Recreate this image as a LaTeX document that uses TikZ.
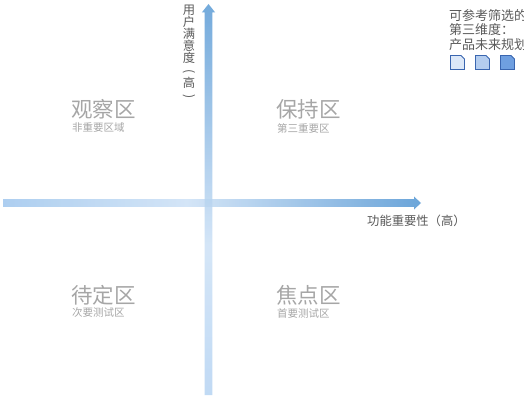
\documentclass[tikz,border=0pt]{standalone}
\usepackage{fontspec}
\newfontfamily\cjk{Noto Sans CJK SC}
\definecolor{hA}{HTML}{A4C9EE}
\definecolor{hB}{HTML}{CFE2F6}
\definecolor{hC}{HTML}{5B9BD5}
\definecolor{vA}{HTML}{B5D3F2}
\definecolor{vB}{HTML}{CDE1F6}
\definecolor{vC}{HTML}{5B9BD5}
\definecolor{txtdark}{HTML}{595959}
\definecolor{txtgray}{HTML}{A6A6A6}
\definecolor{sqborder}{HTML}{3A66B0}
\definecolor{sqA}{HTML}{DCE8F8}
\definecolor{sqB}{HTML}{B4CDEF}
\definecolor{sqC}{HTML}{6F9FE0}
\pgfdeclarehorizontalshading{haxis}{100bp}{color(0bp)=(hA); color(25bp)=(hA); color(47bp)=(hB); color(75bp)=(hC); color(100bp)=(hC)}
\pgfdeclareverticalshading{vaxis}{100bp}{color(0bp)=(vA); color(25bp)=(vA); color(44bp)=(vB); color(75bp)=(vC); color(100bp)=(vC)}
\begin{document}
\begin{tikzpicture}[x=1pt,y=-1pt,
  title/.style={font=\cjk\fontsize{21.5}{24}\selectfont, text=txtgray, anchor=west, inner sep=0pt},
  sub/.style={font=\cjk\fontsize{10.5}{12}\selectfont, text=txtgray, anchor=west, inner sep=0pt},
  axislabel/.style={font=\cjk\fontsize{12.3}{12}\selectfont, text=txtdark, inner sep=0pt},
  legend/.style={font=\cjk\fontsize{13}{14.5}\selectfont, text=txtdark, anchor=north west, inner sep=0pt, align=left},
  sq/.style={draw=sqborder, line width=0.9pt}
]
\useasboundingbox (0,0) rectangle (524,398);
% coordinates
\coordinate (hL) at (3,203);
\coordinate (hR) at (421,203);
\coordinate (vB) at (208.5,395);
\coordinate (vT) at (208.5,4);
% horizontal axis arrow
\shade[shading=haxis, opacity=0.9]
  (hL) ++(0,-3.8) -- (414,199.2) -- (414,196.5) -- (hR) -- (414,209.5) -- (414,206.8) -- (3,206.8) -- cycle;
% vertical axis arrow
\shade[shading=vaxis, opacity=0.85]
  (vB) ++(-3.8,0) -- (204.7,12.5) -- (201.8,12.5) -- (vT) -- (215.2,12.5) -- (212.3,12.5) -- (212.3,395) -- cycle;
% axis labels
\node[axislabel, anchor=north west] (xl) at (367,215) {功能重要性（高）};
\node[axislabel, anchor=north, align=center] (yl) at (189,4.5) {用\\户\\满\\意\\度};
\node[axislabel, rotate=-90] (ylp1) at (189,71.5) {(};
\node[axislabel] (ylh) at (189,83) {高};
\node[axislabel, rotate=-90] (ylp2) at (189,96.5) {)};
% quadrant labels
\node[title] (q1) at (71,109) {观察区};
\node[sub] (q1s) at (72,128) {非重要区域};
\node[title] (q2) at (276,109) {保持区};
\node[sub] (q2s) at (277,128) {第三重要区};
\node[title] (q3) at (71,295) {待定区};
\node[sub] (q3s) at (72,313) {次要测试区};
\node[title] (q4) at (276,295) {焦点区};
\node[sub] (q4s) at (277,313) {首要测试区};
% legend
\node[legend] (lg) at (449,9) {可参考筛选的\\第三维度：\\产品未来规划};
\draw[sq, fill=sqA] (450.5,55.5) -- (461,55.5) -- (464.5,59) -- (464.5,69.5) -- (450.5,69.5) -- cycle;
\draw[sq, fill=sqB] (475.5,55.5) -- (486,55.5) -- (489.5,59) -- (489.5,69.5) -- (475.5,69.5) -- cycle;
\draw[sq, fill=sqC] (500.5,55.5) -- (511,55.5) -- (514.5,59) -- (514.5,69.5) -- (500.5,69.5) -- cycle;
\end{tikzpicture}
\end{document}
